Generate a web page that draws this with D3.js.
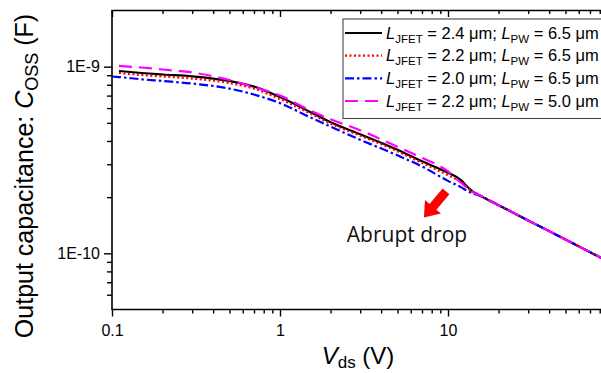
<!DOCTYPE html>
<html>
<head>
<meta charset="utf-8">
<script src="https://cdn.jsdelivr.net/npm/d3@7"></script>
<style>
  body { margin: 0; background: #fff; }
  svg { display: block; font-family: "Liberation Sans", Arial, sans-serif; }
</style>
</head>
<body>
<script>
// drain-source voltage (V)
var vds = [0.1, 0.11, 0.15, 0.2, 0.3, 0.5, 0.7, 1, 1.5, 2, 3, 5, 7, 10, 12, 13, 14, 15, 20, 30, 50, 100];

// Coss in nF (null = no point)
var cossA = [null, 0.948, 0.925, 0.908, 0.888, 0.838, 0.782, 0.687, 0.574, 0.504, 0.435, 0.359, 0.311, 0.270, 0.246, 0.228, 0.215, 0.207, 0.181, 0.150, 0.1187, 0.0859];
var cossB = [null, 0.925, 0.902, 0.886, 0.864, 0.817, 0.763, 0.670, 0.564, 0.495, 0.427, 0.352, 0.305, 0.262, 0.240, 0.2255, 0.2133, 0.2073, 0.181, 0.150, 0.1187, 0.0859];
var cossC = [0.886, 0.880, 0.856, 0.838, 0.812, 0.763, 0.709, 0.638, 0.537, 0.477, 0.406, 0.335, 0.292, 0.2444, 0.2255, 0.2160, 0.2094, 0.2055, 0.181, 0.150, 0.1187, 0.0859];
var cossD = [null, 1.009, 0.990, 0.966, 0.931, 0.848, 0.778, 0.700, 0.585, 0.523, 0.457, 0.372, 0.325, 0.275, 0.238, 0.224, 0.2133, 0.2073, 0.181, 0.150, 0.1187, 0.0859];

var ljfet = ["2.4", "2.2", "2.0", "2.2"];
var lpw = ["6.5", "6.5", "6.5", "5.0"];
var colors = ["#000000", "#ff0000", "#0000ff", "#ff00ff"];
var dashes = [null, "2,2.5", "9,3,2.5,3", "13,7"];

var xMajor = [0.1, 1, 10];
var xMinor = [0.2, 0.3, 0.4, 0.5, 0.6, 0.7, 0.8, 0.9, 2, 3, 4, 5, 6, 7, 8, 9, 20, 30, 40, 50, 60, 70, 80, 90];
var yMajor = [1e-10, 1e-9];
var yMajorLabels = ["1E-10", "1E-9"];
var yMinor = [6e-11, 7e-11, 8e-11, 9e-11, 2e-10, 3e-10, 4e-10, 5e-10, 6e-10, 7e-10, 8e-10, 9e-10];

var W = 601, H = 373;
var mLeft = 112, mTop = 10.5, mBottom = 309.5;

var svg = d3.select("body").append("svg")
    .attr("width", W).attr("height", H);

var x = d3.scaleLog().domain([0.1, 100]).range([mLeft, mLeft + 3 * 168]);
var y = d3.scaleLog().domain([5e-11, 2e-9]).range([mBottom, mTop]);

svg.append("clipPath").attr("id", "clip")
  .append("rect").attr("x", mLeft).attr("y", mTop).attr("width", W - mLeft).attr("height", mBottom - mTop);

// series
var series = [cossA, cossB, cossC, cossD].map(function(arr) {
    return vds.map(function(v, i) { return arr[i] == null ? null : [v, arr[i] * 1e-9]; })
              .filter(function(d) { return d; });
});

var line = d3.line()
    .x(function(d) { return x(d[0]); })
    .y(function(d) { return y(d[1]); })
    .curve(d3.curveMonotoneX);

svg.append("g").attr("clip-path", "url(#clip)")
  .selectAll("path").data(series).enter().append("path")
    .attr("d", line)
    .attr("fill", "none")
    .attr("stroke", function(d, i) { return colors[i]; })
    .attr("stroke-width", 2.2)
    .attr("stroke-dasharray", function(d, i) { return dashes[i]; });

// axes
function styleAxis(g) {
    g.select(".domain").remove();
    g.selectAll(".tick line").attr("stroke", "#000").attr("stroke-width", 1.4);
    g.selectAll("text").attr("fill", "#000").attr("font-size", "16px")
        .attr("font-family", "'Liberation Sans', Arial, sans-serif");
}

svg.append("g").attr("transform", "translate(0," + mBottom + ")")
    .call(d3.axisBottom(x).tickValues(xMinor).tickSize(4).tickFormat(""))
    .call(styleAxis);
svg.append("g").attr("transform", "translate(0," + mBottom + ")")
    .call(d3.axisBottom(x).tickValues(xMajor).tickSize(7).tickPadding(8).tickFormat(d3.format("~g")))
    .call(styleAxis);
// mirrored ticks on top
svg.append("g").attr("transform", "translate(0," + mTop + ")")
    .call(d3.axisBottom(x).tickValues(xMinor).tickSize(3.5).tickFormat(""))
    .call(styleAxis);
svg.append("g").attr("transform", "translate(0," + mTop + ")")
    .call(d3.axisBottom(x).tickValues(xMajor).tickSize(6.5).tickFormat(""))
    .call(styleAxis);

svg.append("g").attr("transform", "translate(" + mLeft + ",0)")
    .call(d3.axisLeft(y).tickValues(yMinor).tickSize(5).tickFormat(""))
    .call(styleAxis);
svg.append("g").attr("transform", "translate(" + mLeft + ",0)")
    .call(d3.axisLeft(y).tickValues(yMajor).tickSize(8).tickPadding(4)
        .tickFormat(function(d, i) { return yMajorLabels[i]; }))
    .call(styleAxis);

// frame
svg.append("path")
    .attr("d", "M" + W + "," + mTop + "H" + mLeft + "V" + mBottom + "H" + W)
    .attr("fill", "none").attr("stroke", "#000").attr("stroke-width", 1.6);

// axis titles
var xt = svg.append("text")
    .attr("x", 358).attr("y", 364)
    .attr("text-anchor", "middle")
    .attr("font-size", "24px");
xt.append("tspan").attr("font-style", "italic").text("V");
xt.append("tspan").attr("font-size", "17px").attr("dy", 4).text("ds");
xt.append("tspan").attr("dy", -4).text(" (V)");

var yt = svg.append("text")
    .attr("transform", "translate(33,176) rotate(-90)")
    .attr("text-anchor", "middle")
    .attr("font-size", "25px");
yt.append("tspan").text("Output capacitance: ");
yt.append("tspan").attr("font-style", "italic").text("C");
yt.append("tspan").attr("font-size", "18px").attr("dy", 5).text("OSS");
yt.append("tspan").attr("dy", -5).text(" (F)");

// legend
var lg = svg.append("g");
lg.append("rect")
    .attr("x", 343).attr("y", 19).attr("width", 270).attr("height", 99.5)
    .attr("fill", "#fff").attr("stroke", "#444").attr("stroke-width", 1.1);

var rowY = d3.scaleLinear().domain([0, 3]).range([33, 101]);
ljfet.forEach(function(lj, i) {
    var ry = rowY(i);
    lg.append("line")
        .attr("x1", 345).attr("x2", 382).attr("y1", ry).attr("y2", ry)
        .attr("stroke", colors[i]).attr("stroke-width", 2.2)
        .attr("stroke-dasharray", dashes[i]);
    var t = lg.append("text").attr("x", 386).attr("y", ry + 5.5).attr("font-size", "16.5px");
    t.append("tspan").attr("font-style", "italic").text("L");
    t.append("tspan").attr("font-size", "11.5px").attr("dy", 4).text("JFET");
    t.append("tspan").attr("dy", -4).text(" = " + lj + " μm; ");
    t.append("tspan").attr("font-style", "italic").text("L");
    t.append("tspan").attr("font-size", "11.5px").attr("dy", 4).text("PW");
    t.append("tspan").attr("dy", -4).text(" = " + lpw[i] + " μm");
});

// annotation: arrow + label
var tail = [x(9.73), y(0.2147e-9)], tip = [x(7.19), y(0.1556e-9)];
var dx = tip[0] - tail[0], dy = tip[1] - tail[1], len = Math.sqrt(dx * dx + dy * dy);
var ux = dx / len, uy = dy / len, nx = -uy, ny = ux;
var hl = 14, hw = 10.5, sw = 4.5;
var neck = [tip[0] - ux * hl, tip[1] - uy * hl];
var pts = [
    [tail[0] + nx * sw, tail[1] + ny * sw],
    [neck[0] + nx * sw, neck[1] + ny * sw],
    [neck[0] + nx * hw, neck[1] + ny * hw],
    tip,
    [neck[0] - nx * hw, neck[1] - ny * hw],
    [neck[0] - nx * sw, neck[1] - ny * sw],
    [tail[0] - nx * sw, tail[1] - ny * sw]
];
svg.append("path")
    .attr("d", "M" + pts.map(function(p) { return p.join(","); }).join("L") + "Z")
    .attr("fill", "#ff0000");

svg.append("text")
    .attr("x", x(2.5)).attr("y", y(0.1146e-9))
    .attr("font-family", "'Open Sans', sans-serif")
    .attr("font-size", "21px")
    .attr("fill", "#111")
    .text("Abrupt drop");
</script>
</body>
</html>
